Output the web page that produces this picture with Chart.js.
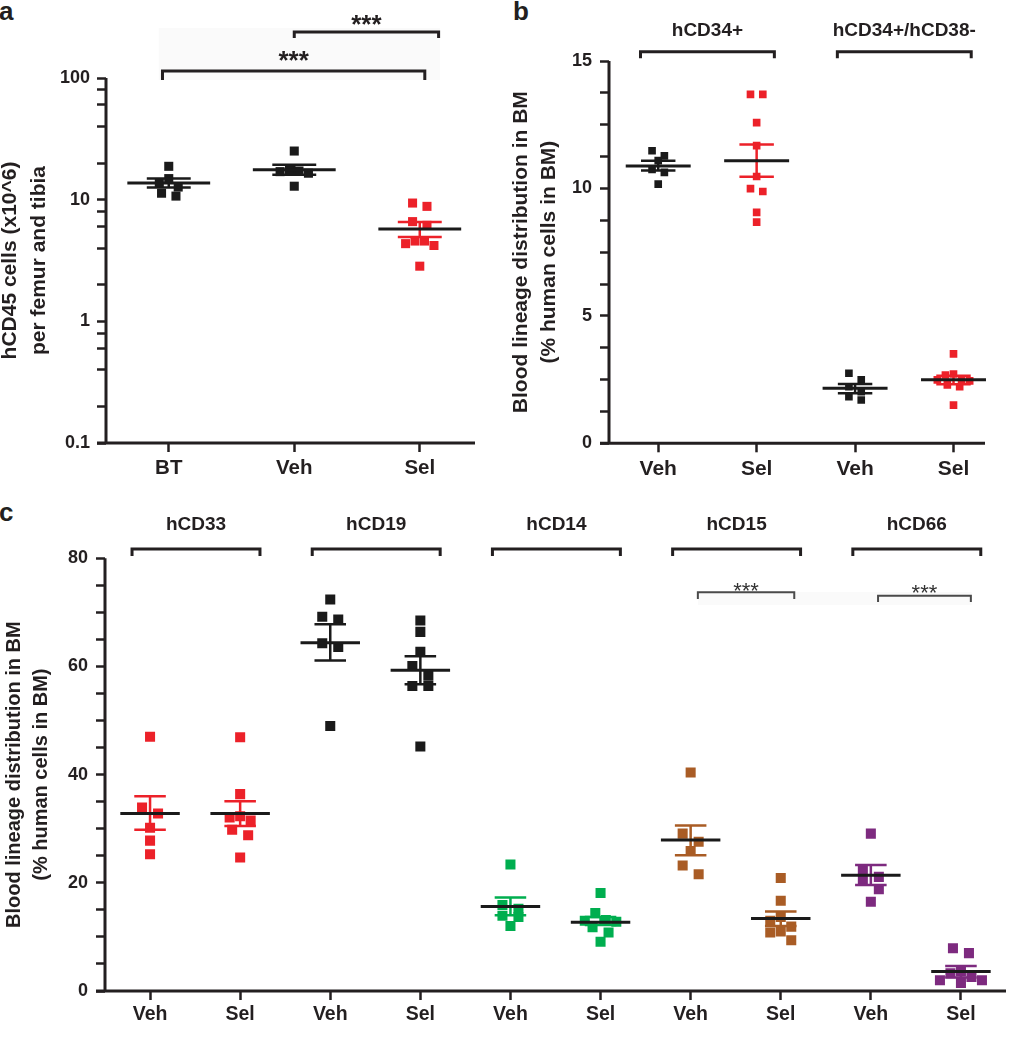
<!DOCTYPE html>
<html>
<head>
<meta charset="utf-8">
<script src="https://cdn.jsdelivr.net/npm/chart.js@4.4.0/dist/chart.umd.min.js"></script>
<style>
  body { margin: 0; background: #fff; width: 1016px; height: 1050px; position: relative; overflow: hidden; font-family: "Liberation Sans", Arial, sans-serif; }
  .panel { position: absolute; }
  .tag { position: absolute; font-weight: bold; font-size: 26px; line-height: 1; color: #231f20; }
</style>
</head>
<body>
<div class="tag" style="left:-1px;top:-2px">a</div>
<div class="tag" style="left:513px;top:-2px">b</div>
<div class="tag" style="left:-1px;top:499px">c</div>
<div class="panel" style="left:0;top:0;width:490px;height:490px"><canvas id="chartA"></canvas></div>
<div class="panel" style="left:490px;top:0;width:526px;height:490px"><canvas id="chartB"></canvas></div>
<div class="panel" style="left:0;top:500px;width:1016px;height:550px"><canvas id="chartC"></canvas></div>
<script>
// ---- panel a : hCD45 cells per femur and tibia (log scale) ----
const aCategories = ['BT', 'Veh', 'Sel'];
const aBT = [18.8, 12.7, 14.9, 13.6, 11.3, 10.7];
const aVeh = [25.1, 17.5, 17.0, 16.5, 17.2, 12.9];
const aSel = [9.38, 8.81, 6.6, 6.15, 4.57, 4.35, 4.2, 4.57, 2.84];
const aMean = [13.7, 17.6, 5.73];
const aSemHigh = [14.9, 19.4, 6.55];
const aSemLow = [12.6, 16.0, 4.93];
const aTicks = [0.1, 0.2, 0.4, 0.6, 0.8, 1, 2, 4, 6, 8, 10, 20, 40, 60, 80, 100];

// ---- panel b : progenitors ----
const bCategories = ['Veh', 'Sel', 'Veh', 'Sel'];
const bGroups = ['hCD34+', 'hCD34+/hCD38-'];
const bVeh34 = [11.28, 11.09, 11.48, 10.75, 10.63, 10.17];
const bSel34 = [13.69, 13.69, 12.58, 11.68, 10.47, 9.99, 9.88, 9.06, 8.68];
const bVeh38 = [2.75, 2.49, 2.22, 2.03, 1.83, 1.70];
const bSel38 = [3.51, 2.72, 2.68, 2.49, 2.49, 2.45, 2.29, 2.22, 1.50];
const bMean = [10.88, 11.09, 2.16, 2.49];
const bSemHigh = [11.09, 11.72, 2.33, 2.65];
const bSemLow = [10.70, 10.46, 1.96, 2.32];
const bTicks = [0, 1.25, 2.5, 3.75, 5, 6.25, 7.5, 8.75, 10, 11.25, 12.5, 13.75, 15];

// ---- panel c : lineages ----
const cCategories = ['Veh', 'Sel', 'Veh', 'Sel', 'Veh', 'Sel', 'Veh', 'Sel', 'Veh', 'Sel'];
const cGroups = ['hCD33', 'hCD19', 'hCD14', 'hCD15', 'hCD66'];
const cValues = [
  [47.0, 33.9, 32.8, 30.2, 27.8, 25.3],
  [46.9, 36.4, 32.3, 32.1, 31.5, 29.8, 28.8, 24.7],
  [72.4, 69.2, 68.7, 64.3, 63.6, 49.0],
  [68.5, 66.4, 62.7, 60.1, 58.3, 56.4, 56.4, 45.2],
  [23.4, 15.9, 15.2, 13.9, 13.7, 12.0],
  [18.1, 14.4, 13.1, 13.0, 12.8, 11.8, 10.8, 9.1],
  [40.4, 29.1, 27.6, 25.9, 23.2, 21.6],
  [20.9, 16.7, 13.7, 13.0, 11.9, 11.0, 10.8, 9.4],
  [29.1, 22.4, 21.1, 20.5, 18.8, 16.5],
  [7.9, 7.0, 3.6, 3.3, 2.6, 2.0, 2.0, 1.5]
];
const cMean = [32.8, 32.8, 64.4, 59.3, 15.6, 12.7, 27.9, 13.4, 21.4, 3.6];
const cSemHigh = [36.0, 35.1, 67.8, 61.9, 17.3, 13.7, 30.6, 14.7, 23.3, 4.6];
const cSemLow = [29.8, 30.5, 61.1, 56.7, 14.0, 12.2, 25.1, 12.0, 19.6, 2.5];
const cTicks = [0, 5, 10, 15, 20, 25, 30, 35, 40, 45, 50, 55, 60, 65, 70, 75, 80];

// colours
const INK = '#231f20';
const BLACK = '#1a1a1a';
const RED = '#ec2129';
const GREEN = '#00ae4f';
const BROWN = '#a95c25';
const PURPLE = '#7d2a7f';

Chart.defaults.font.family = '"Liberation Sans", Arial, Helvetica, sans-serif';
Chart.defaults.color = INK;
Chart.defaults.animation = false;

// mean line + SEM whiskers for every column
const meanSem = {
  id: 'meanSem',
  afterDatasetsDraw(chart, args, o) {
    const { ctx, scales: { x, y } } = chart;
    const unit = x.getPixelForValue(1) - x.getPixelForValue(0);
    ctx.save();
    ctx.lineCap = 'butt';
    o.mean.forEach((m, i) => {
      const cx = x.getPixelForValue(i);
      const yh = y.getPixelForValue(o.high[i]);
      const yl = y.getPixelForValue(o.low[i]);
      ctx.strokeStyle = o.colors[i];
      ctx.lineWidth = 2.5;
      ctx.beginPath();
      ctx.moveTo(cx, yh); ctx.lineTo(cx, yl);
      ctx.moveTo(cx - unit * 0.175, yh); ctx.lineTo(cx + unit * 0.175, yh);
      ctx.moveTo(cx - unit * 0.175, yl); ctx.lineTo(cx + unit * 0.175, yl);
      ctx.stroke();
      const ym = y.getPixelForValue(m);
      ctx.strokeStyle = BLACK;
      ctx.lineWidth = 3;
      ctx.beginPath();
      ctx.moveTo(cx - unit * 0.33, ym); ctx.lineTo(cx + unit * 0.33, ym);
      ctx.stroke();
    });
    ctx.restore();
  }
};

// axis lines (x axis sticks out a little to the left, like the original)
const axisLines = {
  id: 'axisLines',
  beforeDatasetsDraw(chart) {
    const { ctx, chartArea: ca } = chart;
    ctx.save();
    ctx.strokeStyle = INK;
    ctx.lineWidth = 3;
    ctx.beginPath();
    ctx.moveTo(ca.left, ca.top);
    ctx.lineTo(ca.left, ca.bottom + 1.5);
    ctx.moveTo(ca.left - 9, ca.bottom);
    ctx.lineTo(ca.right, ca.bottom);
    ctx.stroke();
    ctx.restore();
  }
};

// group brackets, significance brackets and stars
const brackets = {
  id: 'brackets',
  beforeDraw(chart, args, o) {
    if (!o.shade) return;
    const { ctx, scales: { x } } = chart;
    const s = o.shade;
    ctx.save();
    ctx.fillStyle = '#fafafa';
    const x0 = x.getPixelForValue(s.from), x1 = x.getPixelForValue(s.to);
    ctx.fillRect(x0, s.y0, x1 - x0, s.y1 - s.y0);
    ctx.restore();
  },
  afterDraw(chart, args, o) {
    const { ctx, scales: { x } } = chart;
    ctx.save();
    (o.items || []).forEach(b => {
      const x0 = x.getPixelForValue(b.from), x1 = x.getPixelForValue(b.to);
      ctx.strokeStyle = b.color || INK;
      ctx.lineWidth = b.width || 3;
      ctx.lineJoin = 'miter';
      ctx.beginPath();
      ctx.moveTo(x0, b.legY);
      ctx.lineTo(x0, b.y);
      ctx.lineTo(x1, b.y);
      ctx.lineTo(x1, b.legY);
      ctx.stroke();
      ctx.fillStyle = b.textColor || INK;
      ctx.font = b.font;
      ctx.textAlign = 'center';
      ctx.textBaseline = b.baseline || 'middle';
      ctx.fillText(b.text, (x0 + x1) / 2, b.textY);
    });
    ctx.restore();
  }
};

function scatterSets(values, colors, radius) {
  return values.map((vals, i) => ({
    data: vals.map(v => ({ x: i, y: v })),
    backgroundColor: colors[i],
    borderColor: colors[i],
    borderWidth: 0,
    pointStyle: 'rect',
    pointRadius: radius,
    pointHoverRadius: radius
  }));
}

// spread overlapping symbols sideways (rows of close values get symmetric slots)
function spreadPoints(chart, side) {
  const x = chart.scales.x, y = chart.scales.y;
  const unit = x.getPixelForValue(1) - x.getPixelForValue(0);
  chart.data.datasets.forEach((ds, i) => {
    const pts = ds.data.map(p => ({ p, py: y.getPixelForValue(p.y) })).sort((a, b) => a.py - b.py);
    let k = 0;
    while (k < pts.length) {
      const row = [pts[k]];
      let j = k + 1;
      while (j < pts.length && pts[j].py - pts[k].py < side) row.push(pts[j++]);
      const n = row.length;
      const gap = n === 2 ? side * 1.6 : side * 1.05;
      const slots = row.map((_, m) => m - (n - 1) / 2)
        .sort((a, b) => Math.abs(a) - Math.abs(b) || a - b);
      row.forEach((r, m) => { r.p.x = i + slots[m] * gap / unit; });
      k = j;
    }
  });
  chart.update('none');
}

function xScale(cats, max, height, size, pad) {
  return {
    type: 'linear', min: -0.5, max: max,
    afterBuildTicks: s => { s.ticks = cats.map((_, i) => ({ value: i })); },
    afterFit: s => { s.height = height; },
    ticks: { autoSkip: false, maxRotation: 0, padding: pad, color: INK,
      font: { size: size, weight: 'bold' }, callback: v => cats[v] },
    grid: { drawOnChartArea: false, tickLength: 9, tickWidth: 2.5, tickColor: INK },
    border: { display: false }
  };
}

function yTitle(lines, size, lh, padTop) {
  return { display: true, text: lines, color: INK,
    font: { size: size, weight: 'bold', lineHeight: lh }, padding: { top: padTop, bottom: 0 } };
}

// ---------- chart a ----------
const aColors = [BLACK, BLACK, RED];
const chartA = new Chart(document.getElementById('chartA'), {
  type: 'scatter',
  data: { datasets: scatterSets([aBT, aVeh, aSel], aColors, 6.4) },
  options: {
    responsive: true, maintainAspectRatio: false,
    layout: { padding: { left: 0, top: 78, right: 15, bottom: 7 } },
    scales: {
      x: xScale(aCategories, 2.44, 40, 20.5, 4),
      y: {
        type: 'logarithmic', min: 0.1, max: 100,
        afterBuildTicks: s => { s.ticks = aTicks.map(v => ({ value: v })); },
        afterFit: s => { s.width = 106; },
        ticks: { autoSkip: false, padding: 7, color: INK, font: { size: 18, weight: 'bold' },
          callback: v => { const l = Math.log10(v); return Math.abs(l - Math.round(l)) < 1e-9 ? String(v) : ''; } },
        grid: { drawOnChartArea: false, tickLength: 9, tickWidth: 2.5, tickColor: INK },
        border: { display: false },
        title: yTitle(['hCD45 cells (x10^6)', 'per femur and tibia'], 21, 1.425, -5.25)
      }
    },
    plugins: {
      legend: { display: false }, tooltip: { enabled: false },
      meanSem: { mean: aMean, high: aSemHigh, low: aSemLow, colors: aColors },
      brackets: {
        shade: { from: -0.08, to: 2.16, y0: 28, y1: 80 },
        items: [
          { from: -0.05, to: 2.04, y: 71, legY: 80, text: '***', textY: 68.6,
            baseline: 'alphabetic', font: 'bold 26px "Liberation Sans", Arial, sans-serif' },
          { from: 1.0, to: 2.15, y: 32, legY: 38, text: '***', textY: 33,
            baseline: 'alphabetic', font: 'bold 26px "Liberation Sans", Arial, sans-serif' }
        ]
      }
    }
  },
  plugins: [axisLines, meanSem, brackets]
});
spreadPoints(chartA, 9);

// ---------- chart b ----------
const bColors = [BLACK, RED, BLACK, RED];
const chartB = new Chart(document.getElementById('chartB'), {
  type: 'scatter',
  data: { datasets: scatterSets([bVeh34, bSel34, bVeh38, bSel38], bColors, 5.4) },
  options: {
    responsive: true, maintainAspectRatio: false,
    layout: { padding: { left: 0, top: 61, right: 31, bottom: 6.7 } },
    scales: {
      x: xScale(bCategories, 3.32, 40, 21, 4),
      y: {
        type: 'linear', min: 0, max: 15,
        afterBuildTicks: s => { s.ticks = bTicks.map(v => ({ value: v })); },
        afterFit: s => { s.width = 119; },
        ticks: { autoSkip: false, padding: 8, color: INK, font: { size: 18, weight: 'bold' },
          callback: v => (v % 5 === 0 ? String(v) : '') },
        grid: { drawOnChartArea: false, tickLength: 9, tickWidth: 2.5, tickColor: INK },
        border: { display: false },
        title: yTitle(['Blood lineage distribution in BM', '(% human cells in BM)'], 21, 1.31, 17.75)
      }
    },
    plugins: {
      legend: { display: false }, tooltip: { enabled: false },
      meanSem: { mean: bMean, high: bSemHigh, low: bSemLow, colors: bColors },
      brackets: {
        items: bGroups.map((t, k) => ({ from: 2 * k - 0.18, to: 2 * k + 1.18, y: 51.7, legY: 58.3,
          text: t, textY: 30.5, font: 'bold 19px "Liberation Sans", Arial, sans-serif' }))
      }
    }
  },
  plugins: [axisLines, meanSem, brackets]
});
spreadPoints(chartB, 7.7);

// ---------- chart c ----------
const cColors = [RED, RED, BLACK, BLACK, GREEN, GREEN, BROWN, BROWN, PURPLE, PURPLE];
const starFont = '22px "Liberation Sans", Arial, sans-serif';
const chartC = new Chart(document.getElementById('chartC'), {
  type: 'scatter',
  data: { datasets: scatterSets(cValues, cColors, 7.1) },
  options: {
    responsive: true, maintainAspectRatio: false,
    layout: { padding: { left: 0, top: 58.3, right: 10, bottom: 14 } },
    scales: {
      x: xScale(cCategories, 9.5, 45, 19.5, 3),
      y: {
        type: 'linear', min: 0, max: 80,
        afterBuildTicks: s => { s.ticks = cTicks.map(v => ({ value: v })); },
        afterFit: s => { s.width = 105; },
        ticks: { autoSkip: false, padding: 8, color: INK, font: { size: 18, weight: 'bold' },
          callback: v => (v % 20 === 0 ? String(v) : '') },
        grid: { drawOnChartArea: false, tickLength: 9, tickWidth: 2.5, tickColor: INK },
        border: { display: false },
        title: yTitle(['Blood lineage distribution in BM', '(% human cells in BM)'], 20, 1.35, 0.5)
      }
    },
    plugins: {
      legend: { display: false }, tooltip: { enabled: false },
      meanSem: { mean: cMean, high: cSemHigh, low: cSemLow, colors: cColors },
      brackets: {
        shade: { from: 6.08, to: 9.12, y0: 92, y1: 105 },
        items: cGroups.map((t, k) => ({ from: 2 * k - 0.2, to: 2 * k + 1.22, y: 49, legY: 56,
          text: t, textY: 24.5, font: 'bold 19px "Liberation Sans", Arial, sans-serif' }))
          .concat([
            { from: 6.08, to: 7.15, y: 92.3, legY: 99, width: 2, color: '#4a4a4a', text: '***',
              textY: 98.3, baseline: 'alphabetic', font: starFont, textColor: '#333' },
            { from: 8.08, to: 9.11, y: 95.7, legY: 102, width: 2, color: '#4a4a4a', text: '***',
              textY: 99.6, baseline: 'alphabetic', font: starFont, textColor: '#333' }
          ])
      }
    }
  },
  plugins: [axisLines, meanSem, brackets]
});
spreadPoints(chartC, 10);
</script>
</body>
</html>
